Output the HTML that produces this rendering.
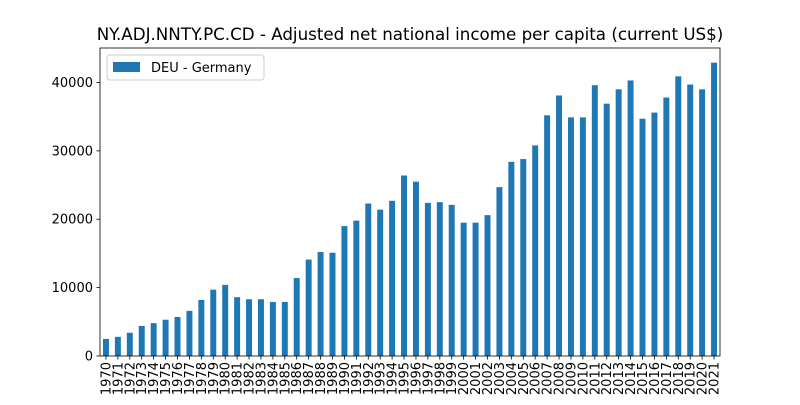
<!DOCTYPE html>
<html><head><meta charset="utf-8"><style>
body{margin:0;background:#fff;}
svg{font-family:"DejaVu Sans","Liberation Sans",sans-serif;}
</style></head><body>
<svg id="c" width="800" height="400"></svg>
<script>
const years=[];for(let y=1970;y<=2021;y++)years.push(String(y));
const values=[2500,2800,3400,4400,4800,5300,5700,6600,8200,9700,10400,8600,8300,8300,7900,7900,11400,14100,15200,15100,19000,19800,22300,21400,22700,26400,25500,22400,22500,22100,19500,19500,20600,24700,28400,28800,30800,35200,38100,34900,34900,39600,36900,39000,40300,34700,35600,37800,40900,39700,39000,42900];
const yTicks=[0,10000,20000,30000,40000];
const NS="http://www.w3.org/2000/svg";
const svg=document.getElementById('c');
const L=100,R=720,T=48,B=356;
const ymax=45045;
const y=v=>B-(v/ymax)*(B-T);
const band=(R-L)/years.length;
const x=i=>L+band*(i+0.5);
function el(t,a,txt){const e=document.createElementNS(NS,t);for(const k in a)e.setAttribute(k,a[k]);if(txt!==undefined)e.textContent=txt;svg.appendChild(e);return e;}
values.forEach((v,i)=>{
 const r=el('rect',{x:x(i)-band*0.25,y:y(v),width:band*0.5,height:B-y(v),fill:'#1f77b4'});
 
 
});
const ax=el('rect',{x:L,y:T,width:R-L,height:B-T,fill:'none',stroke:'#000','stroke-width':0.8});


yTicks.forEach(t=>{
 el('line',{x1:L-3.5,x2:L,y1:y(t),y2:y(t),stroke:'#000','stroke-width':0.8});
 const tx=el('text',{x:L-7,y:y(t)+4.5,'text-anchor':'end','font-size':13},String(t));
 
 
});
years.forEach((yr,i)=>{
 el('line',{x1:x(i),x2:x(i),y1:B,y2:B+3.5,stroke:'#000','stroke-width':0.8});
 const tx=el('text',{x:0,y:0,'text-anchor':'end','font-size':13,transform:`translate(${x(i)+4.5},${B+6}) rotate(-90)`},yr);
 
 
});
const title=el('text',{x:410,y:40,'text-anchor':'middle','font-size':16.7},'NY.ADJ.NNTY.PC.CD - Adjusted net national income per capita (current US$)');


const lg=el('rect',{x:107,y:55,width:157,height:25,rx:3,fill:'#fff',stroke:'#ccc','stroke-width':1});


el('rect',{x:113,y:62,width:27,height:10,fill:'#1f77b4'});
const lt=el('text',{x:151,y:72,'font-size':13},'DEU - Germany');


</script>
</body></html>
